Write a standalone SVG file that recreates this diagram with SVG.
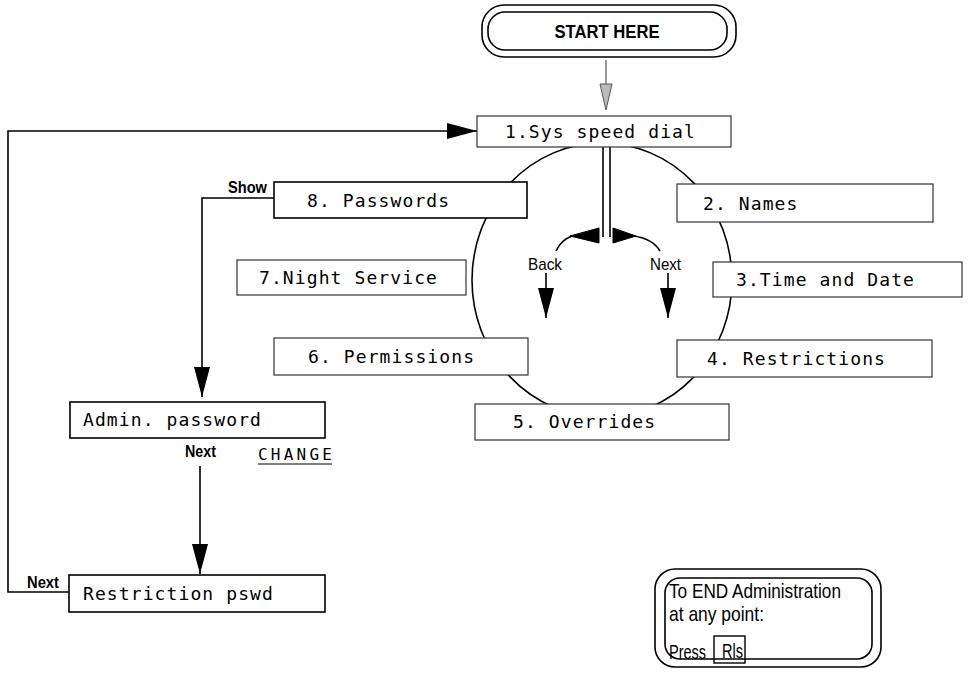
<svg xmlns="http://www.w3.org/2000/svg" width="969" height="676" viewBox="0 0 969 676">
<style>
.box{fill:#fff;stroke:#333;stroke-width:1.2}
.sbox{fill:#fff;stroke:#000;stroke-width:1.6}
.mono{font-family:"DejaVu Sans Mono","Liberation Mono",monospace;font-size:18px;letter-spacing:1.1px;fill:#000}
.lbl{font-family:"Liberation Sans",Arial,sans-serif;font-size:17px;font-weight:bold;fill:#000}
.lblr{font-family:"Liberation Sans",Arial,sans-serif;font-size:17px;fill:#000}
.end{font-family:"Liberation Sans",Arial,sans-serif;font-size:21px;fill:#000}
.line{fill:none;stroke:#000;stroke-width:1.6}
.ah{fill:#000;stroke:#000;stroke-width:1}
</style>
<defs>
<marker id="arr" viewBox="0 0 30 16" refX="30" refY="8" markerWidth="30" markerHeight="16" markerUnits="userSpaceOnUse" orient="auto">
<path d="M0,0 L30,8 L0,16 Z" fill="#000"/>
</marker>
</defs>

<g id="cycle">
<ellipse cx="602" cy="280" rx="130" ry="137" fill="none" stroke="#000" stroke-width="1.6"/>
</g>

<g id="connectors">
<line x1="606" y1="60" x2="606" y2="86" stroke="#555" stroke-width="1.2"/>
<path d="M600,84 L612,84 L606,110 Z" fill="#bbb" stroke="#555" stroke-width="1"/>
<path class="line" d="M69,592 H8 V131 H477" marker-end="url(#arr)"/>
<path class="line" d="M274,198 H202 V397" marker-end="url(#arr)"/>
<path class="line" d="M200,466 V574" marker-end="url(#arr)"/>
<line x1="603" y1="147" x2="603" y2="237" stroke="#000" stroke-width="1.6"/>
<line x1="610" y1="147" x2="610" y2="237" stroke="#000" stroke-width="1.6"/>
<path class="ah" d="M599,228 L599,243 L570,236 Z"/>
<path class="ah" d="M613,228 L613,243 L636,236 Z"/>
<path class="line" d="M572,236 Q561,240 556,251"/>
<path class="line" d="M634,236 Q653,239 660,251"/>
<path class="line" d="M546,273 V318" marker-end="url(#arr)"/>
<path class="line" d="M668,273 V318" marker-end="url(#arr)"/>
</g>

<g id="start">
<rect x="482" y="5" width="254" height="52" rx="22" fill="#fff" stroke="#000" stroke-width="1.6"/>
<rect x="488" y="12" width="239" height="38" rx="17" fill="none" stroke="#000" stroke-width="1.6"/>
<text x="607" y="38" text-anchor="middle" font-family="Liberation Sans,Arial,sans-serif" font-size="19" font-weight="bold" textLength="105" lengthAdjust="spacingAndGlyphs">START HERE</text>
</g>

<g id="n1"><rect class="box" x="477" y="116" width="254" height="31"/><text class="mono" x="505" y="138">1.Sys speed dial</text></g>
<g id="n2"><rect class="box" x="677" y="184" width="256" height="38"/><text class="mono" x="703" y="210">2. Names</text></g>
<g id="n3"><rect class="box" x="713" y="262" width="249" height="35"/><text class="mono" x="736" y="286">3.Time and Date</text></g>
<g id="n4"><rect class="box" x="677" y="340" width="255" height="37"/><text class="mono" x="707" y="365">4. Restrictions</text></g>
<g id="n5"><rect class="box" x="475" y="404" width="254" height="36"/><text class="mono" x="513" y="428">5. Overrides</text></g>
<g id="n6"><rect class="box" x="274" y="338" width="254" height="37"/><text class="mono" x="308" y="363">6. Permissions</text></g>
<g id="n7"><rect class="box" x="237" y="260" width="229" height="35"/><text class="mono" x="259" y="284">7.Night Service</text></g>
<g id="n8"><rect class="sbox" x="274" y="182" width="253" height="36"/><text class="mono" x="307" y="207">8. Passwords</text></g>

<g id="admin"><rect class="sbox" x="70" y="402" width="255" height="36"/><text class="mono" x="83" y="426">Admin. password</text></g>
<g id="restr"><rect class="sbox" x="69" y="575" width="256" height="37"/><text class="mono" x="83" y="600">Restriction pswd</text></g>

<g id="labels">
<text class="lbl" x="228" y="193" textLength="39" lengthAdjust="spacingAndGlyphs">Show</text>
<text class="lbl" x="185" y="457" textLength="31" lengthAdjust="spacingAndGlyphs">Next</text>
<text class="lbl" x="27" y="588" textLength="32" lengthAdjust="spacingAndGlyphs">Next</text>
<text class="lblr" x="528" y="270" textLength="34" lengthAdjust="spacingAndGlyphs">Back</text>
<text class="lblr" x="650" y="270" textLength="31" lengthAdjust="spacingAndGlyphs">Next</text>
<text class="mono" x="258" y="460" style="font-size:16px;letter-spacing:0" textLength="74" lengthAdjust="spacing">CHANGE</text>
<line x1="258" y1="464" x2="332" y2="464" stroke="#000" stroke-width="1.2"/>
</g>

<g id="endbox">
<rect x="655" y="569" width="226" height="98" rx="20" fill="#fff" stroke="#000" stroke-width="1.6"/>
<rect x="665" y="578" width="207" height="81" rx="15" fill="none" stroke="#000" stroke-width="1.6"/>
<text class="end" x="669" y="598" textLength="172" lengthAdjust="spacingAndGlyphs">To END Administration</text>
<text class="end" x="669" y="621" textLength="95" lengthAdjust="spacingAndGlyphs">at any point:</text>
<text class="end" x="669" y="659" textLength="37" lengthAdjust="spacingAndGlyphs">Press</text>
<rect x="714" y="636" width="31" height="27" fill="none" stroke="#000" stroke-width="1.4"/>
<text class="end" x="722" y="658" textLength="21" lengthAdjust="spacingAndGlyphs">Rls</text>
</g>
</svg>
